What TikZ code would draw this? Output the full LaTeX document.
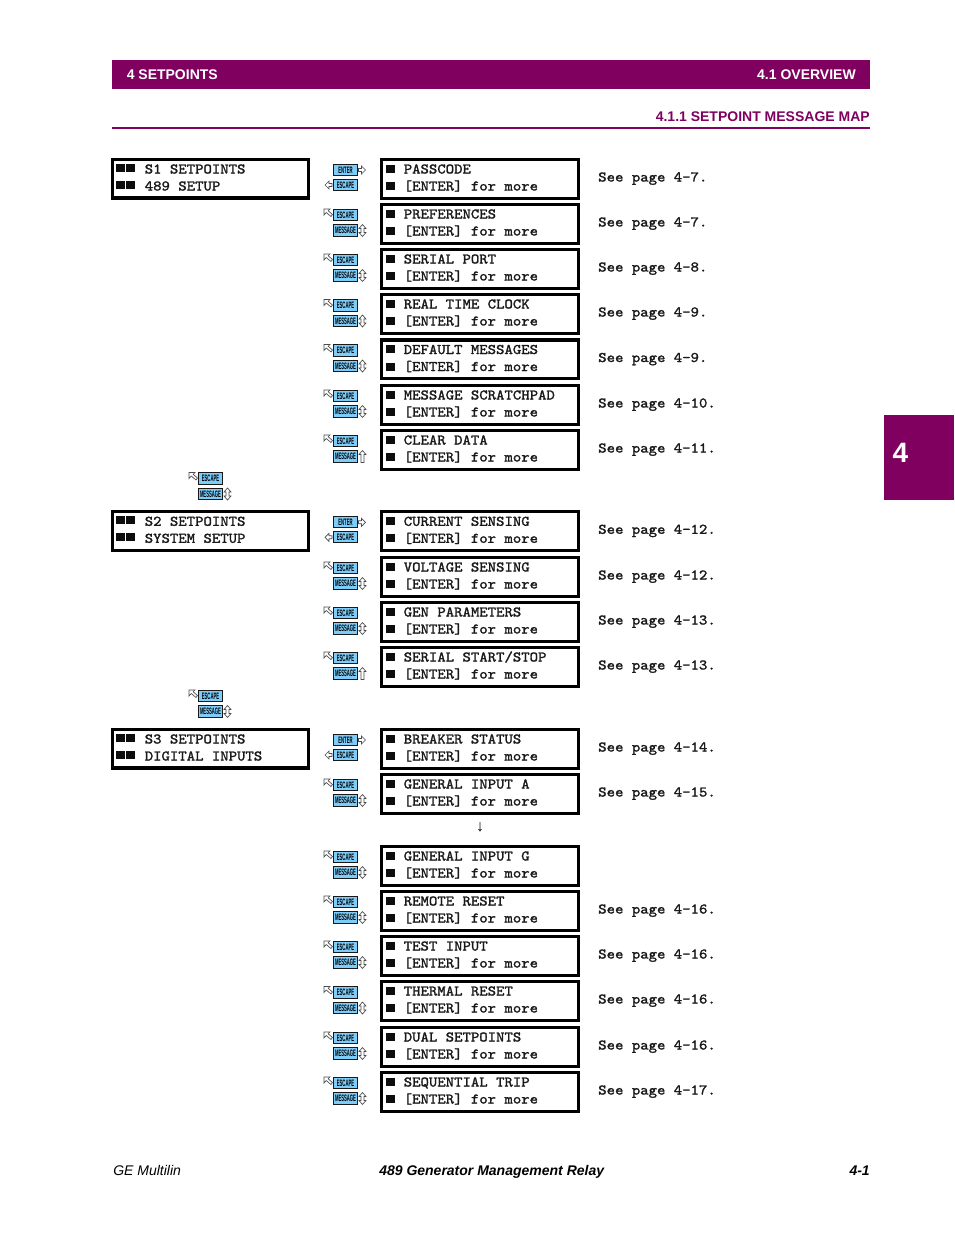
\documentclass[tikz,border=0pt]{standalone}
\usepackage{fontspec}
\setmainfont{Liberation Sans}
\newfontfamily\lcd{Latin Modern Mono}[AutoFakeBold=1.6,FakeStretch=1.09]
\definecolor{gepurple}{RGB}{128,0,96}
\definecolor{keyblue}{RGB}{125,205,250}
\tikzset{
  lcdtext/.style={inner sep=0pt,anchor=base west,font=\lcd\bfseries\fontsize{11pt}{11pt}\selectfont,text=black!90},
  lcdbox/.style={draw=black,line width=2.4pt,fill=white,inner sep=0pt,minimum height=29.1pt},
  bullet/.style={fill=black!95,draw=none},
  keybox/.style={draw=black!90,line width=0.8pt,fill=keyblue,inner sep=0pt,minimum width=17.4pt,minimum height=8.4pt,text=black,font=\bfseries\fontsize{7pt}{7pt}\selectfont},
  keyarrow/.style={draw=black!70,line width=0.5pt,fill=white,line join=miter},
  headtext/.style={inner sep=0pt,font=\bfseries\fontsize{10.5pt}{11pt}\selectfont},
  foot/.style={inner sep=0pt,anchor=base,font=\itshape\fontsize{10.5pt}{11pt}\selectfont}
}
\newcommand{\keylabel}[1]{\scalebox{0.45}[1]{#1}}
\newcommand{\squares}[2]{% x, y
  \fill[bullet] (#1,#2) rectangle ++(9,8);}
% id, top, line 1, line 2
\newcommand{\headbox}[4]{
  \node[lcdbox,minimum width=147pt] (#1) at (210.5,#2+20.5) {};
  \squares{116}{#2+6}\squares{126}{#2+6}\squares{116}{#2+23}\squares{126}{#2+23}
  \node[lcdtext] (#1a) at (144.5,#2+15.5) {#3};
  \node[lcdtext] (#1b) at (144.5,#2+32.5) {#4};
  \keyfirst{#1}{#2}
}
% id, top, title, page
\newcommand{\menubox}[4]{
  \node[lcdbox,minimum width=147.75pt] (#1) at (480,#2+20.8) {};
  \squares{385.5}{#2+6.5}\squares{385.5}{#2+24}
  \node[lcdtext] (#1a) at (403.5,#2+15.5) {#3};
  \node[lcdtext] (#1b) at (403.5,#2+32.5) {[ENTER] for more};
  \node[lcdtext] (#1p) at (598,#2+23.5) {#4};
}
\newcommand{\keyfirst}[2]{
  \node[keybox] (#1en) at (345.5,#2+12) {\keylabel{ENTER}};
  \node[keybox] (#1es) at (345.5,#2+27) {\keylabel{ESCAPE}};
  \draw[keyarrow] (358.5,#2+10.5)--(361.5,#2+10.5)--(361.5,#2+8)--(365.5,#2+12)--(361.5,#2+16)--(361.5,#2+13.5)--(358.5,#2+13.5)--cycle;
  \draw[keyarrow] (332,#2+25.5)--(329,#2+25.5)--(329,#2+23)--(325,#2+27)--(329,#2+31)--(329,#2+28.5)--(332,#2+28.5)--cycle;
}
% id, x shift centre, top of group
\newcommand{\keydiag}[3]{
  \node[keybox] (#1es) at (#2,#3+12) {\keylabel{ESCAPE}};
  \node[keybox] (#1ms) at (#2,#3+27.5) {\keylabel{MESSAGE}};
  \begin{scope}[shift={(#2-21.5,#3+6)}]
    \draw[keyarrow] (0,0)--(6,0)--(4.2,1.8)--(8.5,5.5)--(7,7.5)--(2.2,3.5)--(0,6)--cycle;
  \end{scope}
}
\newcommand{\keyupdown}[2]{% x centre key, top
  \draw[keyarrow] (#1+17,#2+21.5)--(#1+20.5,#2+25.5)--(#1+18.5,#2+25.5)--(#1+18.5,#2+29.5)--(#1+20.5,#2+29.5)--(#1+17,#2+33.5)--(#1+13.5,#2+29.5)--(#1+15.5,#2+29.5)--(#1+15.5,#2+25.5)--(#1+13.5,#2+25.5)--cycle;
}
\newcommand{\keyup}[2]{%
  \draw[keyarrow] (#1+17,#2+21.5)--(#1+20.5,#2+25.5)--(#1+18.5,#2+25.5)--(#1+18.5,#2+33.5)--(#1+15.5,#2+33.5)--(#1+15.5,#2+25.5)--(#1+13.5,#2+25.5)--cycle;
}
\newcommand{\keypair}[2]{\keydiag{#1}{345.5}{#2}\keyupdown{345.5}{#2}}
\newcommand{\keypairup}[2]{\keydiag{#1}{345.5}{#2}\keyup{345.5}{#2}}
\begin{document}
\begin{tikzpicture}[x=0.75pt,y=-0.75pt]
\useasboundingbox (0,0) rectangle (954,1235);
\fill[white] (0,0) rectangle (954,1235);
% header
\node[fill=gepurple,inner sep=0pt,minimum width=568.5pt,minimum height=21.75pt] (band) at (491,74.5) {};
\node[headtext,text=white,anchor=base west] (chap) at (126.5,79) {4 SETPOINTS};
\node[headtext,text=white,anchor=base east] (sec) at (856,79) {4.1 OVERVIEW};
\node[headtext,text=gepurple,anchor=base east] (sub) at (870,121) {4.1.1 SETPOINT MESSAGE MAP};
\fill[gepurple] (112,127) rectangle (870,129);
% tab
\node[fill=gepurple,inner sep=0pt,minimum width=52.5pt,minimum height=63.75pt] (tab) at (919,457.5) {};
\node[inner sep=0pt,text=white,anchor=base,font=\bfseries\fontsize{21pt}{21pt}\selectfont] (tabn) at (900.5,462) {4};
% section 1
\headbox{sa}{158}{S1 SETPOINTS}{489 SETUP}
\menubox{a1}{158}{PASSCODE}{See page 4-7.}
\menubox{a2}{203}{PREFERENCES}{See page 4-7.}\keypair{ka2}{203}
\menubox{a3}{248}{SERIAL PORT}{See page 4-8.}\keypair{ka3}{248}
\menubox{a4}{293}{REAL TIME CLOCK}{See page 4-9.}\keypair{ka4}{293.5}
\menubox{a5}{338.5}{DEFAULT MESSAGES}{See page 4-9.}\keypair{ka5}{338.5}
\menubox{a6}{384}{MESSAGE SCRATCHPAD}{See page 4-10.}\keypair{ka6}{384}
\menubox{a7}{429}{CLEAR DATA}{See page 4-11.}\keypairup{ka7}{429}
\keydiag{kx1}{210.5}{466.5}\keyupdown{210.5}{466.5}
% section 2
\headbox{sb}{510.3}{S2 SETPOINTS}{SYSTEM SETUP}
\menubox{b1}{510.3}{CURRENT SENSING}{See page 4-12.}
\menubox{b2}{556}{VOLTAGE SENSING}{See page 4-12.}\keypair{kb2}{556}
\menubox{b3}{601}{GEN PARAMETERS}{See page 4-13.}\keypair{kb3}{601}
\menubox{b4}{646}{SERIAL START/STOP}{See page 4-13.}\keypairup{kb4}{646}
\keydiag{kx2}{210.5}{684}\keyupdown{210.5}{684}
% section 3
\headbox{sc}{728}{S3 SETPOINTS}{DIGITAL INPUTS}
\menubox{c1}{728}{BREAKER STATUS}{See page 4-14.}
\menubox{c2}{773}{GENERAL INPUT A}{See page 4-15.}\keypair{kc2}{773}
\node[inner sep=0pt,font=\fontsize{12pt}{12pt}\selectfont] (dn) at (480,827) {↓};
\menubox{c3}{845}{GENERAL INPUT G}{}\keypair{kc3}{845}
\menubox{c4}{890}{REMOTE RESET}{See page 4-16.}\keypair{kc4}{890}
\menubox{c5}{935}{TEST INPUT}{See page 4-16.}\keypair{kc5}{935}
\menubox{c6}{980}{THERMAL RESET}{See page 4-16.}\keypair{kc6}{980.5}
\menubox{c7}{1026}{DUAL SETPOINTS}{See page 4-16.}\keypair{kc7}{1026}
\menubox{c8}{1071}{SEQUENTIAL TRIP}{See page 4-17.}\keypair{kc8}{1071}
% footer
\node[foot,anchor=base west] (f1) at (113,1175) {GE Multilin};
\node[foot,anchor=base west,font=\bfseries\itshape\fontsize{10.5pt}{11pt}\selectfont] (f2) at (379,1175) {489 Generator Management Relay};
\node[foot,anchor=base east,font=\bfseries\itshape\fontsize{10.5pt}{11pt}\selectfont] (f3) at (870,1175) {4-1};
\end{tikzpicture}
\end{document}
